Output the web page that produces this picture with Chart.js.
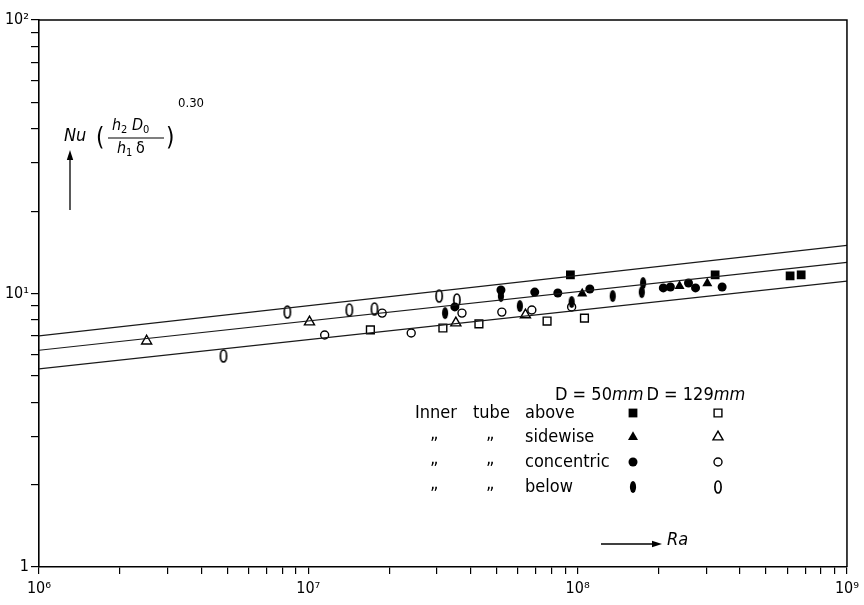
<!DOCTYPE html>
<html lang="en">
<head>
<meta charset="UTF-8">
<title>Nu versus Ra</title>
<script src="https://cdn.jsdelivr.net/npm/chart.js@4.4.0/dist/chart.umd.min.js"></script>
<style>
  * { margin: 0; padding: 0; box-sizing: border-box; }
  body { background: #fff; }
  #wrap { width: 864px; height: 605px; }
</style>
</head>
<body>
<div id="wrap"><canvas id="myChart" width="864" height="605"></canvas></div>
<script>
// three correlation lines, read at Ra = 1e6 and Ra = 1e9
var lineRa = [1e6, 1e9];
var lineUpper = [7.0, 15.0];
var lineMiddle = [6.2, 13.0];
var lineLower = [5.3, 11.1];

// [Ra, Nu*(h2 D0 / h1 delta)^0.30]   D=50mm filled, D=129mm open
var above50 = [[9.4e7, 11.7], [3.24e8, 11.7], [6.15e8, 11.6], [6.76e8, 11.7]];
var above129 = [[1.70e7, 7.36], [3.16e7, 7.48], [4.3e7, 7.74], [7.7e7, 7.93], [1.06e8, 8.13]];
var side50 = [[1.04e8, 10.0], [2.39e8, 10.65], [3.03e8, 10.9]];
var side129 = [[2.51e6, 6.7], [1.01e7, 7.87], [3.53e7, 7.8], [6.4e7, 8.35]];
var conc50 = [[3.5e7, 8.93], [5.19e7, 10.3], [6.93e7, 10.12], [8.44e7, 10.04], [1.11e8, 10.39],
  [2.08e8, 10.48], [2.21e8, 10.56], [2.58e8, 10.92], [2.74e8, 10.48], [3.44e8, 10.56]];
var conc129 = [[1.15e7, 7.05], [1.88e7, 8.48], [2.41e7, 7.17], [3.72e7, 8.48], [5.23e7, 8.55],
  [6.76e7, 8.7], [9.5e7, 8.93]];
var below50 = [[3.22e7, 8.48], [5.19e7, 9.79], [6.1e7, 9.0], [9.5e7, 9.31], [1.35e8, 9.79],
  [1.75e8, 10.92], [1.73e8, 10.12]];
var below129 = [[4.84e6, 5.91], [8.36e6, 8.56], [1.42e7, 8.7], [1.76e7, 8.78], [3.06e7, 9.79], [3.56e7, 9.47]];

var xDecades = [1e6, 1e7, 1e8, 1e9];
var xDecadeLabels = ['10\u2076', '10\u2077', '10\u2078', '10\u2079'];
var yDecades = [1, 10, 100];
var yDecadeLabels = ['1', '10\u00B9', '10\u00B2'];

var FONT = '"DejaVu Sans Condensed", "DejaVu Sans", sans-serif';

function logTicks(decades) {
  var out = [];
  for (var i = 0; i < decades.length; i++) {
    out.push(decades[i]);
    if (i < decades.length - 1) {
      for (var m = 2; m <= 9; m++) out.push(decades[i] * m);
    }
  }
  return out;
}
var xTickValues = logTicks(xDecades);
var yTickValues = logTicks(yDecades);

function toPts(arr) {
  return arr.map(function (p) { return { x: p[0], y: p[1] }; });
}
function linePts(vals) {
  return [{ x: lineRa[0], y: vals[0] }, { x: lineRa[1], y: vals[1] }];
}

// the "0" shaped marker for "below"
function ellipseMarker(filled) {
  var c = document.createElement('canvas');
  c.width = 10; c.height = 16;
  var g = c.getContext('2d');
  g.beginPath();
  g.ellipse(5, 8, 3.1, 6, 0, 0, Math.PI * 2);
  if (filled) { g.fillStyle = '#000'; g.fill(); }
  else { g.strokeStyle = '#000'; g.lineWidth = 1.7; g.stroke(); }
  return c;
}
var ellFilled = ellipseMarker(true);
var ellOpen = ellipseMarker(false);

function lineSet(vals) {
  return { type: 'line', data: linePts(vals), showLine: true, borderColor: '#1a1a1a', borderWidth: 1.1, pointRadius: 0, fill: false };
}
function markSet(arr, style, r, filled) {
  return {
    type: 'scatter', data: toPts(arr), pointStyle: style, pointRadius: r,
    backgroundColor: filled ? '#000' : 'rgba(255,255,255,0)', borderColor: '#000',
    borderWidth: filled ? 0 : 1.4
  };
}

// legend marker, drawn the same way as the points
function drawMarker(ctx, kind, filled, x, y) {
  ctx.save();
  ctx.fillStyle = '#000'; ctx.strokeStyle = '#000'; ctx.lineWidth = 1.4;
  ctx.beginPath();
  if (kind === 'rect') {
    var s = filled ? 4.4 : 3.9;
    ctx.rect(x - s, y - s, 2 * s, 2 * s);
  } else if (kind === 'triangle') {
    var r = 5.8;
    ctx.moveTo(x, y - r);
    ctx.lineTo(x + r * 0.866, y + r * 0.5);
    ctx.lineTo(x - r * 0.866, y + r * 0.5);
    ctx.closePath();
  } else if (kind === 'circle') {
    ctx.arc(x, y, filled ? 4.5 : 4, 0, Math.PI * 2);
  }
  if (kind === 'ellipse') {
    ctx.drawImage(filled ? ellFilled : ellOpen, Math.round(x) - 5, Math.round(y) - 8);
  } else if (filled) ctx.fill();
  else ctx.stroke();
  ctx.restore();
}

function arrow(ctx, x1, y1, x2, y2) {
  var ang = Math.atan2(y2 - y1, x2 - x1), L = 10, W = 3.2;
  ctx.beginPath(); ctx.moveTo(x1, y1); ctx.lineTo(x2 - L * Math.cos(ang), y2 - L * Math.sin(ang)); ctx.stroke();
  ctx.beginPath();
  ctx.moveTo(x2, y2);
  ctx.lineTo(x2 - L * Math.cos(ang) - W * Math.sin(ang), y2 - L * Math.sin(ang) + W * Math.cos(ang));
  ctx.lineTo(x2 - L * Math.cos(ang) + W * Math.sin(ang), y2 - L * Math.sin(ang) - W * Math.cos(ang));
  ctx.closePath(); ctx.fill();
}

var notes = {
  id: 'notes',
  afterDraw: function (chart) {
    var ctx = chart.ctx, a = chart.chartArea;
    ctx.save();
    ctx.strokeStyle = '#000'; ctx.fillStyle = '#000';
    // frame top and right
    ctx.lineWidth = 1.5;
    ctx.beginPath(); ctx.moveTo(a.left, a.top); ctx.lineTo(a.right, a.top); ctx.lineTo(a.right, a.bottom); ctx.stroke();

    // y axis title
    ctx.lineWidth = 1.3;
    arrow(ctx, 70, 210, 70, 150);
    ctx.textBaseline = 'middle'; ctx.textAlign = 'left';
    ctx.font = 'italic 18px ' + FONT;
    ctx.fillText('Nu', 64, 136);
    ctx.font = '24px ' + FONT;
    ctx.fillText('(', 96, 139);
    ctx.fillText(')', 166, 139);
    ctx.font = 'italic 16px ' + FONT;
    ctx.fillText('h', 112, 126);
    ctx.fillText('D', 132, 126);
    ctx.fillText('h', 117, 149);
    ctx.font = '16px ' + FONT;
    ctx.fillText('\u03B4', 136, 149);
    ctx.font = '11px ' + FONT;
    ctx.fillText('2', 121, 130);
    ctx.fillText('0', 143, 130);
    ctx.fillText('1', 126, 153);
    ctx.font = '13px ' + FONT;
    ctx.fillText('0.30', 178, 104);
    ctx.lineWidth = 1.1;
    ctx.beginPath(); ctx.moveTo(108, 138); ctx.lineTo(164, 138); ctx.stroke();

    // x axis title
    ctx.lineWidth = 1.3;
    arrow(ctx, 601, 544, 662, 544);
    ctx.font = 'italic 18px ' + FONT;
    ctx.fillText('Ra', 667, 540);

    // legend table
    var f = '18px ' + FONT, fi = 'italic 18px ' + FONT;
    var x = 555;
    ctx.font = f; ctx.fillText('D = 50', x, 395); x += ctx.measureText('D = 50').width;
    ctx.font = fi; ctx.fillText('mm', x, 395); x += ctx.measureText('mm').width + 3;
    ctx.font = f; ctx.fillText('D = 129', x, 395); x += ctx.measureText('D = 129').width;
    ctx.font = fi; ctx.fillText('mm', x, 395);

    var rows = [
      { y: 413, name: 'above', kind: 'rect' },
      { y: 437, name: 'sidewise', kind: 'triangle' },
      { y: 462, name: 'concentric', kind: 'circle' },
      { y: 487, name: 'below', kind: 'ellipse' }
    ];
    ctx.font = f;
    rows.forEach(function (r, i) {
      if (i === 0) {
        ctx.fillText('Inner', 415, r.y);
        ctx.fillText('tube', 473, r.y);
      } else {
        ctx.fillText('\u201E', 430, r.y - 3);
        ctx.fillText('\u201E', 486, r.y - 3);
      }
      ctx.fillText(r.name, 525, r.y);
      drawMarker(ctx, r.kind, true, 633, r.y);
      drawMarker(ctx, r.kind, false, 718, r.y);
    });
    ctx.restore();
  }
};

var myChart = new Chart('myChart', {
  type: 'scatter',
  data: {
    datasets: [
      lineSet(lineUpper), lineSet(lineMiddle), lineSet(lineLower),
      markSet(above50, 'rect', 6.2, true),
      markSet(above129, 'rect', 5.5, false),
      markSet(side50, 'triangle', 5.8, true),
      markSet(side129, 'triangle', 5.8, false),
      markSet(conc50, 'circle', 4.5, true),
      markSet(conc129, 'circle', 4, false),
      markSet(below50, ellFilled, 5, true),
      markSet(below129, ellOpen, 5, false)
    ]
  },
  options: {
    responsive: false,
    animation: false,
    events: [],
    layout: { padding: { left: 0, right: 15, top: 20, bottom: 0 } },
    plugins: { legend: { display: false }, tooltip: { enabled: false } },
    scales: {
      x: {
        type: 'logarithmic', min: 1e6, max: 1e9,
        afterBuildTicks: function (s) { s.ticks = xTickValues.map(function (v) { return { value: v }; }); },
        afterFit: function (s) { s.height = 38; },
        ticks: {
          autoSkip: false, maxRotation: 0, color: '#000', padding: 5,
          font: { family: FONT, size: 16 },
          callback: function (v) { var i = xDecades.indexOf(v); return i < 0 ? '' : xDecadeLabels[i]; }
        },
        grid: { drawOnChartArea: false, drawTicks: true, tickLength: 7, color: '#000', lineWidth: 1.2 },
        border: { display: true, color: '#000', width: 1.6 }
      },
      y: {
        type: 'logarithmic', min: 1, max: 100,
        afterBuildTicks: function (s) { s.ticks = yTickValues.map(function (v) { return { value: v }; }); },
        afterFit: function (s) { s.width = 39; },
        ticks: {
          autoSkip: false, color: '#000', padding: 2,
          font: { family: FONT, size: 16 },
          callback: function (v) { var i = yDecades.indexOf(v); return i < 0 ? '' : yDecadeLabels[i]; }
        },
        grid: { drawOnChartArea: false, drawTicks: true, tickLength: 8, color: '#000', lineWidth: 1.2 },
        border: { display: true, color: '#000', width: 1.6 }
      }
    }
  },
  plugins: [notes]
});
</script>
</body>
</html>
